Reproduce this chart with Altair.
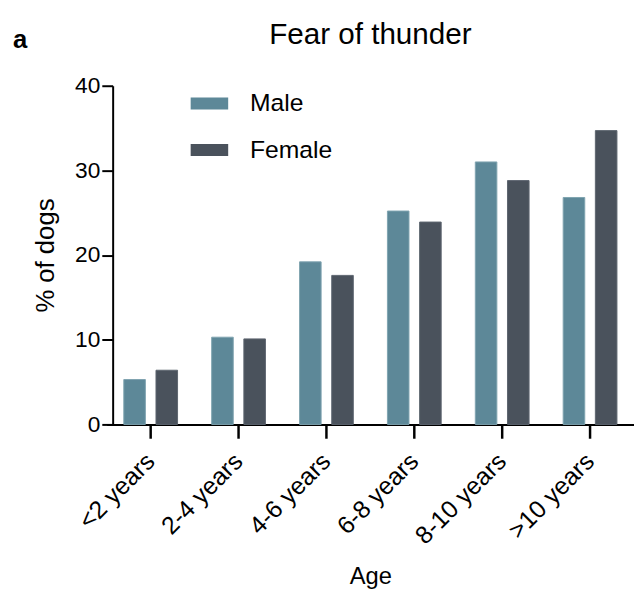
import altair as alt
import pandas as pd

ages = ["<2 years", "2-4 years", "4-6 years", "6-8 years", "8-10 years", ">10 years"]
sexes = ["Male", "Female"]
male = [5.3, 10.3, 19.2, 25.2, 31.0, 26.8]
female = [6.4, 10.1, 17.6, 23.9, 28.8, 34.7]
colors = ["#5d8898", "#4a525c"]

rows = []
for a, m, f in zip(ages, male, female):
    rows.append({"Age": a, "Sex": "Male", "Pct": m})
    rows.append({"Age": a, "Sex": "Female", "Pct": f})
df = pd.DataFrame(rows)

FONT = "Liberation Sans"
W, H = 534, 343

bars = alt.Chart(df).mark_bar(strokeWidth=1).encode(
    x=alt.X("Age:N", sort=ages, title="Age",
            scale=alt.Scale(paddingInner=0, paddingOuter=0),
            axis=alt.Axis(labelAngle=-45, labelAlign="right", labelBaseline="middle",
                          labelFontSize=25, labelPadding=19, tickSize=14, tickWidth=2.5,
                          tickColor="black", domainColor="black", domainWidth=2,
                          titleFontSize=24, titleFontWeight="normal", titlePadding=16,
                          labelColor="black", titleColor="black")),
    xOffset=alt.XOffset("Sex:N", sort=sexes,
                        scale=alt.Scale(paddingInner=0.33, paddingOuter=0.53)),
    y=alt.Y("Pct:Q", title="% of dogs",
            scale=alt.Scale(domain=[0, 40], nice=False),
            axis=alt.Axis(values=[0, 10, 20, 30, 40], tickSize=11, tickWidth=2,
                          tickColor="black", domainColor="black", domainWidth=2,
                          labelFontSize=23, labelPadding=2, grid=False, offset=-6,
                          titleFontSize=26, titleFontWeight="normal", titlePadding=16,
                          labelColor="black", titleColor="black")),
    color=alt.Color("Sex:N", sort=sexes, scale=alt.Scale(domain=sexes, range=colors),
                    legend=alt.Legend(orient="none", legendX=85, legendY=-1, title=None,
                                      symbolType="M-1,-0.32H1V0.32H-1Z", symbolSize=1444,
                                      symbolStrokeWidth=0, labelFontSize=25, labelOffset=22,
                                      rowPadding=15, padding=0, labelColor="black")),
    stroke=alt.Color("Sex:N", sort=sexes,
                     scale=alt.Scale(domain=sexes, range=["#7fa4b0", "#5d6670"]), legend=None),
)

label_a = alt.Chart(pd.DataFrame({"t": ["a"]})).mark_text(
    font=FONT, fontSize=26, fontWeight="bold", align="left", baseline="alphabetic", color="black"
).encode(text="t:N", x=alt.value(-95), y=alt.value(-38))

title_txt = alt.Chart(pd.DataFrame({"t": ["Fear of thunder"]})).mark_text(
    font=FONT, fontSize=30, align="center", baseline="alphabetic", color="black"
).encode(text="t:N", x=alt.value(W / 2), y=alt.value(-42))

chart = alt.layer(bars, label_a, title_txt).properties(
    width=W, height=H,
    padding={"left": 5, "top": 9, "right": 0, "bottom": 0},
).configure(font=FONT).configure_view(stroke=None)

chart.save("out.html", embed_options={"renderer": "svg", "actions": False})
